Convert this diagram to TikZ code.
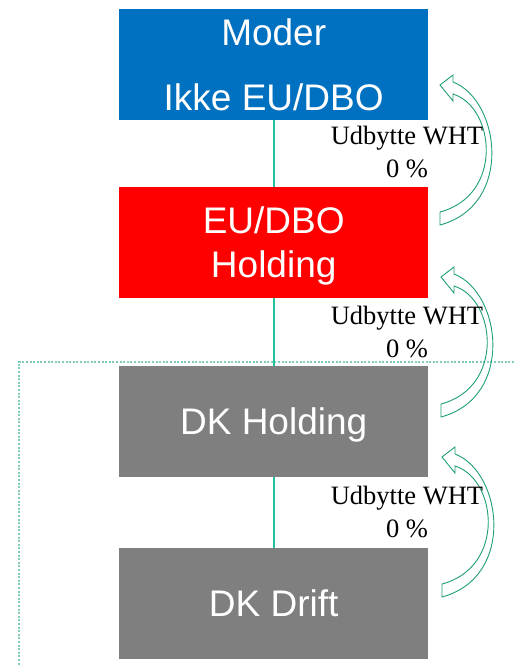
\documentclass[tikz,border=0pt]{standalone}
\usepackage{fontspec}
\setmainfont{Liberation Serif}
\newfontfamily\boxfont{Liberation Sans}
\definecolor{mblue}{HTML}{0070C0}
\definecolor{mred}{HTML}{FF0000}
\definecolor{mgray}{HTML}{7F7F7F}
\definecolor{conn}{HTML}{22C29E}
\definecolor{dotc}{HTML}{7FCDBB}
\definecolor{arrc}{HTML}{1E9E78}
\tikzset{
  entity/.style={anchor=north west, minimum width=309pt, minimum height=111pt, inner sep=0pt,
    text=white, font=\boxfont\fontsize{37}{43.3}\selectfont, align=center,
    text height=26.5pt, text depth=0pt},
  linkline/.style={draw=conn, line width=1.8pt},
  wlabel/.style={font=\fontsize{26.5}{33}\selectfont, align=center, inner sep=0pt, anchor=base},
  curvarrow/.pic={
    \draw[arrc, line width=0.9pt, line join=miter]
      (0,0) -- (13,-10) -- (13,-3) .. controls (60,15) and (74,120) .. (0,140)
      -- (0,127) .. controls (64,110) and (55,22) .. (13,9) -- (13,16) -- cycle;
  }
}
\begin{document}
\begin{tikzpicture}[x=1pt, y=-1pt]
\useasboundingbox (0,0) rectangle (514,665);
% dotted boundary
\coordinate (dR) at (514,362);
\coordinate (dC) at (19,362);
\coordinate (dB) at (19,665);
\draw[dotc, line width=1.3pt, dash pattern=on 2pt off 1.6pt] (dR) -- (dC) -- (dB);
% boxes
\node[entity, fill=mblue, text height=91pt] (b1) at (119,9) {Moder\\[21.7pt]Ikke EU/DBO};
\node[entity, fill=mred, text height=69pt] (b2) at (119,187) {EU/DBO\\Holding};
\node[entity, fill=mgray] (b3) at (119,366) {DK Holding};
\node[entity, fill=mgray] (b4) at (119,548) {DK Drift};
% connectors
\draw[linkline] (b1.south) -- (b2.north);
\draw[linkline] (b2.south) -- (b3.north);
\draw[linkline] (b3.south) -- (b4.north);
% curved arrows
\pic at (440,85) {curvarrow};
\pic at (441,277) {curvarrow};
\pic at (442,457) {curvarrow};
% labels
\node[wlabel] (l1) at (407,177) {Udbytte WHT\\0 \%};
\node[wlabel] (l2) at (407,357) {Udbytte WHT\\0 \%};
\node[wlabel] (l3) at (407,537) {Udbytte WHT\\0 \%};
\end{tikzpicture}
\end{document}
